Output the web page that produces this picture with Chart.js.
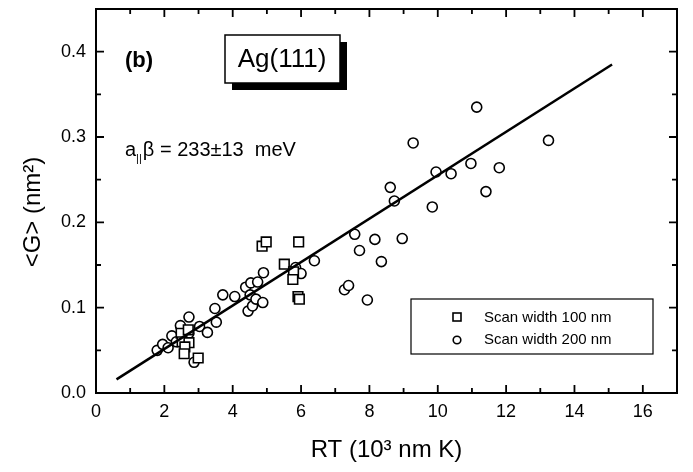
<!DOCTYPE html>
<html>
<head>
<meta charset="utf-8">
<script src="https://cdn.jsdelivr.net/npm/chart.js@4.4.1/dist/chart.umd.min.js"></script>
<style>
  html, body { margin: 0; padding: 0; background: #fff; }
  canvas { display: block; }
</style>
</head>
<body>
<canvas id="chart" width="693" height="472"></canvas>
<script>
// Axis ticks
const xTicks = [0, 2, 4, 6, 8, 10, 12, 14, 16];
const xMinor = [1, 3, 5, 7, 9, 11, 13, 15];
const yTicks = [0, 0.1, 0.2, 0.3, 0.4];
const yMinor = [0.05, 0.15, 0.25, 0.35];

// Scan width 100 nm (squares)
const sq100X = [2.49, 2.70, 2.52, 2.72, 2.60, 2.58, 2.99, 4.86, 4.98, 5.93, 5.51, 5.78, 5.76, 5.91, 5.95];
const sq100Y = [0.070, 0.074, 0.060, 0.059, 0.054, 0.046, 0.041, 0.172, 0.177, 0.177, 0.151, 0.142, 0.133, 0.113, 0.110];

// Scan width 200 nm (circles)
const ci200X = [1.79, 1.95, 2.11, 2.22, 2.35, 2.47, 2.72, 2.72, 3.03, 3.26, 2.87, 3.48, 3.52, 3.71, 4.06,
                4.38, 4.45, 4.51, 4.53, 4.58, 4.68, 4.73, 4.88, 4.90, 5.84, 6.00, 6.39,
                7.27, 7.39, 7.57, 7.71, 7.94, 8.16, 8.35, 8.61, 8.73, 8.96, 9.28, 9.84, 9.95,
                10.39, 10.97, 11.14, 11.41, 11.80, 13.24];
const ci200Y = [0.050, 0.057, 0.053, 0.067, 0.060, 0.079, 0.070, 0.089, 0.078, 0.071, 0.036, 0.099, 0.083, 0.115, 0.113,
                0.124, 0.096, 0.115, 0.129, 0.102, 0.110, 0.130, 0.106, 0.141, 0.147, 0.140, 0.155,
                0.121, 0.126, 0.186, 0.167, 0.109, 0.180, 0.154, 0.241, 0.225, 0.181, 0.293, 0.218, 0.259,
                0.257, 0.269, 0.335, 0.236, 0.264, 0.296];

// Linear fit
const fitX = [0.6, 15.1];
const fitY = [0.016, 0.385];

const FONT = "'Liberation Sans', Arial, sans-serif";

const toPts = (xs, ys) => xs.map((x, i) => ({ x, y: ys[i] }));

const framePlugin = {
  id: 'frame',
  afterDraw(chart) {
    const { ctx, chartArea: a, scales: { x, y } } = chart;
    ctx.save();
    ctx.strokeStyle = '#000';
    ctx.lineWidth = 2;
    ctx.strokeRect(a.left, a.top, a.right - a.left, a.bottom - a.top);

    // inward ticks on all four sides
    const tick = (px, len, vertical) => {
      ctx.beginPath();
      if (vertical) {
        ctx.moveTo(px, a.bottom); ctx.lineTo(px, a.bottom - len);
        ctx.moveTo(px, a.top); ctx.lineTo(px, a.top + len);
      } else {
        ctx.moveTo(a.left, px); ctx.lineTo(a.left + len, px);
        ctx.moveTo(a.right, px); ctx.lineTo(a.right - len, px);
      }
      ctx.stroke();
    };
    ctx.lineWidth = 1.8;
    xTicks.forEach(v => tick(x.getPixelForValue(v), 8, true));
    xMinor.forEach(v => tick(x.getPixelForValue(v), 5, true));
    yTicks.forEach(v => tick(y.getPixelForValue(v), 8, false));
    yMinor.forEach(v => tick(y.getPixelForValue(v), 5, false));

    ctx.fillStyle = '#000';
    ctx.textBaseline = 'middle';

    // y axis title
    ctx.save();
    ctx.translate(33, 212);
    ctx.rotate(-Math.PI / 2);
    ctx.textAlign = 'center';
    ctx.font = `24px ${FONT}`;
    ctx.fillText('<G> (nm\u00b2)', 0, 0);
    ctx.restore();

    // (b) label
    ctx.textAlign = 'left';
    ctx.font = `bold 22px ${FONT}`;
    ctx.fillText('(b)', 125, 61);

    // Ag(111) box with shadow
    ctx.fillRect(232, 42, 115, 48);
    ctx.fillStyle = '#fff';
    ctx.fillRect(225, 35, 115, 48);
    ctx.lineWidth = 1.5;
    ctx.strokeRect(225, 35, 115, 48);
    ctx.fillStyle = '#000';
    ctx.textAlign = 'center';
    ctx.font = `26px ${FONT}`;
    ctx.fillText('Ag(111)', 282, 60);

    // slope annotation
    ctx.textAlign = 'left';
    ctx.font = `20px ${FONT}`;
    ctx.fillText('a', 125, 150);
    let w = ctx.measureText('a').width;
    ctx.font = `11px ${FONT}`;
    ctx.fillText('||', 125 + w, 159);
    w += ctx.measureText('||').width + 1;
    ctx.font = `20px ${FONT}`;
    ctx.fillText('\u03b2 = 233\u00b113  meV', 125 + w, 150);

    // legend
    ctx.lineWidth = 1.2;
    ctx.strokeRect(411, 299, 242, 55);
    ctx.font = `15px ${FONT}`;
    ctx.fillText('Scan width 100 nm', 484, 318);
    ctx.fillText('Scan width 200 nm', 484, 340);
    ctx.lineWidth = 1.6;
    ctx.strokeRect(453, 313, 8, 8);
    ctx.beginPath();
    ctx.arc(457, 340, 3.8, 0, Math.PI * 2);
    ctx.stroke();
    ctx.restore();
  }
};

new Chart(document.getElementById('chart'), {
  type: 'scatter',
  data: {
    datasets: [
      {
        type: 'line',
        data: toPts(fitX, fitY),
        borderColor: '#000',
        borderWidth: 2.5,
        pointRadius: 0,
        fill: false,
        order: 0,
      },
      {
        label: 'Scan width 100 nm',
        data: toPts(sq100X, sq100Y),
        pointStyle: 'rect',
        pointRadius: 6.8,
        borderColor: '#000',
        backgroundColor: '#fff',
        borderWidth: 1.6,
        order: 1,
      },
      {
        label: 'Scan width 200 nm',
        data: toPts(ci200X, ci200Y),
        pointStyle: 'circle',
        pointRadius: 5,
        borderColor: '#000',
        backgroundColor: '#fff',
        borderWidth: 1.6,
        order: 2,
      },
    ],
  },
  options: {
    responsive: false,
    animation: false,
    layout: { padding: { top: 9, right: 16, left: 0, bottom: 0 } },
    plugins: {
      legend: { display: false },
      tooltip: { enabled: false },
    },
    scales: {
      x: {
        type: 'linear',
        min: 0,
        max: 17,
        afterBuildTicks: s => { s.ticks = xTicks.map(v => ({ value: v })); },
        afterFit: s => { s.height = 79; s.paddingLeft = 0; s.paddingRight = 0; },
        grid: { display: false, drawTicks: false },
        border: { display: false },
        ticks: { color: '#000', padding: 8, font: { family: FONT, size: 18 }, maxRotation: 0 },
        title: {
          display: true,
          text: 'RT (10\u00b3 nm K)',
          color: '#000',
          font: { family: FONT, size: 24 },
          padding: { top: 0, bottom: 7 },
        },
      },
      y: {
        type: 'linear',
        min: 0,
        max: 0.45,
        afterBuildTicks: s => { s.ticks = yTicks.map(v => ({ value: v })); },
        afterFit: s => { s.width = 96; s.paddingTop = 0; s.paddingBottom = 0; },
        grid: { display: false, drawTicks: false },
        border: { display: false },
        ticks: {
          color: '#000',
          padding: 10,
          font: { family: FONT, size: 18 },
          callback: v => v.toFixed(1),
        },
      },
    },
  },
  plugins: [framePlugin],
});
</script>
</body>
</html>
